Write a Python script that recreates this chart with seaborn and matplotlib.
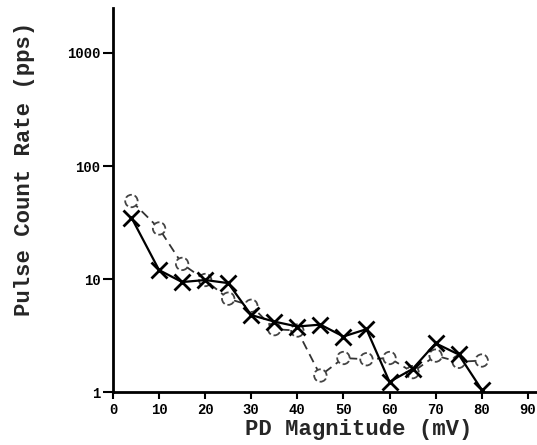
import matplotlib
matplotlib.use("Agg")
import matplotlib.pyplot as plt
import seaborn as sns
import pandas as pd
from matplotlib.ticker import FixedLocator, NullLocator

# PD magnitude bins (mV)
magnitude = [4, 10, 15, 20, 25, 30, 35, 40, 45, 50, 55, 60, 65, 70, 75, 80]
# pulse count rate, crosses (solid line)
rate_cross = [35, 12, 9.4, 9.8, 9.2, 4.8, 4.2, 3.8, 3.95, 3.1, 3.6, 1.23, 1.6, 2.7, 2.15, 1.05]
# pulse count rate, circles (dashed line)
rate_circle = [49, 28, 13.6, 9.8, 6.7, 5.8, 3.6, 3.5, 1.4, 2.0, 1.95, 2.0, 1.5, 2.1, 1.85, 1.9]

x_ticks = [0, 10, 20, 30, 40, 50, 60, 70, 80, 90]
y_ticks = [1, 10, 100, 1000]

df = pd.DataFrame({"mag": magnitude, "cross": rate_cross, "circle": rate_circle})

sns.set_style("white")
plt.rcParams["font.family"] = ["Liberation Mono", "DejaVu Sans Mono"]

fig = plt.figure(figsize=(5.37, 4.45), dpi=100)
ax = fig.add_axes([0.2104, 0.119, 0.7896, 0.863])

sns.lineplot(data=df, x="mag", y="circle", ax=ax, color="#333333",
             linestyle=(0, (5, 3)), linewidth=1.3, marker=None)
ax.scatter(df["mag"], df["circle"], s=80, facecolors="white",
           edgecolors="#444444", linewidths=1.3, linestyles="--", zorder=3)
sns.lineplot(data=df, x="mag", y="cross", ax=ax, color="black",
             linewidth=1.6, marker="x", markersize=11, markeredgewidth=2.0,
             markeredgecolor="black", zorder=4)

ax.set_yscale("log")
ax.set_xlim(0, 92)
ax.set_ylim(1, 2500)
ax.xaxis.set_major_locator(FixedLocator(x_ticks))
ax.yaxis.set_major_locator(FixedLocator(y_ticks))
ax.yaxis.set_minor_locator(NullLocator())
ax.set_xticklabels([str(v) for v in x_ticks], fontsize=10, fontweight="bold")
ax.set_yticklabels([str(v) for v in y_ticks], fontsize=10, fontweight="bold")

for side in ("top", "right"):
    ax.spines[side].set_visible(False)
for side in ("left", "bottom"):
    ax.spines[side].set_linewidth(2.0)
    ax.spines[side].set_color("black")

ax.tick_params(axis="y", which="major", direction="out", length=7,
               width=1.5, color="black", labelcolor="black", pad=2, left=True)
ax.tick_params(axis="x", which="major", direction="out", length=5,
               width=1.5, color="black", labelcolor="black", pad=3, bottom=True)

ax.set_xlabel("PD Magnitude (mV)", fontsize=16, fontweight="bold")
ax.set_ylabel("Pulse Count Rate (pps)", fontsize=16, fontweight="bold")
ax.xaxis.set_label_coords(0.58, -0.07)
ax.yaxis.set_label_coords(-0.185, 0.58)
ax.grid(False)

fig.savefig("out.png", dpi=100)
